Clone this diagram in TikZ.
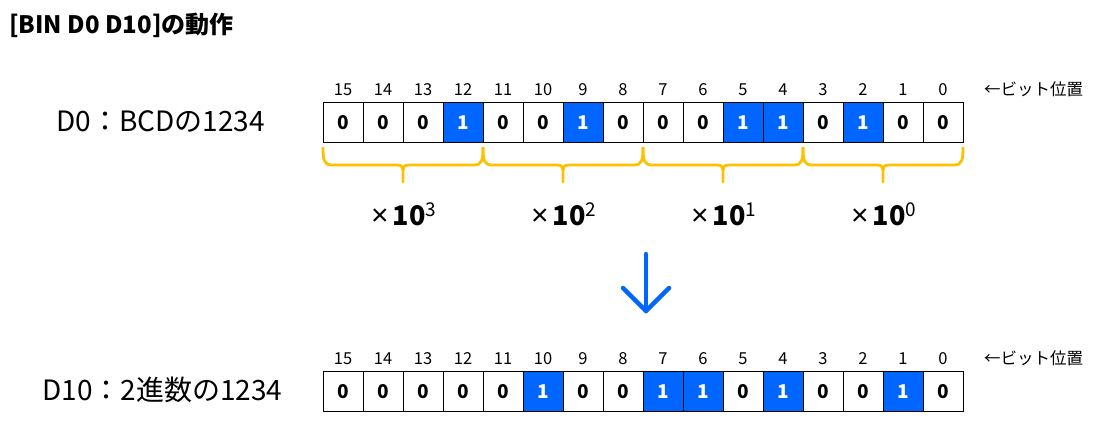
\documentclass[tikz,border=0pt]{standalone}
\usepackage{fontspec}
\setmainfont{Noto Sans CJK JP}
\newfontfamily\timesfont{Liberation Sans}
\definecolor{bitblue}{RGB}{0,102,255}
\definecolor{braceyellow}{RGB}{255,192,0}
\begin{document}
\begin{tikzpicture}[x=1pt,y=-1pt,
  cellbase/.style={draw=black,line width=1.3pt,minimum width=40pt,minimum height=40pt,inner sep=0pt,anchor=north west,font=\fontsize{19}{19}\selectfont\bfseries},
  bitzero/.style={cellbase,fill=white,text=black},
  bitone/.style={cellbase,fill=bitblue,text=white},
  bitnum/.style={font=\fontsize{16.5}{16.5}\selectfont,inner sep=0pt,anchor=base},
  grpbrace/.style={draw=braceyellow,line width=2.8pt,line join=round},
  mult/.style={inner sep=0pt,anchor=base west},
  reglabel/.style={font=\fontsize{28}{28}\selectfont,inner sep=0pt,anchor=base west},
  arrowline/.style={draw=bitblue,line width=4.5pt,line cap=round,line join=round}
]
\useasboundingbox (0,0) rectangle (1105,426);
\node[font=\fontsize{24}{24}\selectfont\bfseries,anchor=base west,inner sep=0pt] (title) at (9,33) {[BIN D0 D10]の動作};
% top register
\node[reglabel] (lbltop) at (56,131) {D0：BCDの1234};
\foreach \b [count=\i from 0] in {0,0,0,1,0,0,1,0,0,0,1,1,0,1,0,0}{
  \ifnum\b=1 \def\st{bitone}\else\def\st{bitzero}\fi
  \pgfmathtruncatemacro{\n}{15-\i}
  \node[\st] (top\i) at (323+40*\i,102) {\b};
  \node[bitnum] (topn\i) at (343+40*\i,95) {\n};
}
\node[bitnum,anchor=base west] (postop) at (984,95) {←ビット位置};
% braces
\foreach \g in {0,1,2,3}{
  \pgfmathsetmacro{\xa}{323+160*\g}
  \pgfmathsetmacro{\xm}{\xa+80}
  \pgfmathsetmacro{\xz}{\xa+160}
  \draw[grpbrace] (\xa,147) .. controls (\xa,160) and (\xa+1,165) .. (\xa+9,165)
    -- (\xm-6,165) .. controls (\xm-1,165) and (\xm,167) .. (\xm,172) -- (\xm,182)
    -- (\xm,172) .. controls (\xm,167) and (\xm+1,165) .. (\xm+6,165)
    -- (\xz-9,165) .. controls (\xz-1,165) and (\xz,160) .. (\xz,147);
}
\foreach \e/\g in {3/0,2/1,1/2,0/3}{
  \node[mult] (m\e) at (371+160*\g,225) {{\timesfont\fontsize{30}{30}\selectfont ×}\hspace{4pt}{\fontsize{27}{27}\selectfont\bfseries 10}\raisebox{9pt}{\fontsize{19}{19}\selectfont \e}};
}
% arrow
\coordinate (arT) at (646,254);
\coordinate (arB) at (646,311);
\coordinate (arL) at (623,288);
\coordinate (arR) at (669,288);
\draw[arrowline] (arT) -- (arB);
\draw[arrowline] (arL) -- (arB) -- (arR);
% bottom register
\node[reglabel] (lblbot) at (42,400) {D10：2進数の1234};
\foreach \b [count=\i from 0] in {0,0,0,0,0,1,0,0,1,1,0,1,0,0,1,0}{
  \ifnum\b=1 \def\st{bitone}\else\def\st{bitzero}\fi
  \pgfmathtruncatemacro{\n}{15-\i}
  \node[\st] (bot\i) at (323+40*\i,371) {\b};
  \node[bitnum] (botn\i) at (343+40*\i,364) {\n};
}
\node[bitnum,anchor=base west] (posbot) at (984,364) {←ビット位置};
\end{tikzpicture}
\end{document}
